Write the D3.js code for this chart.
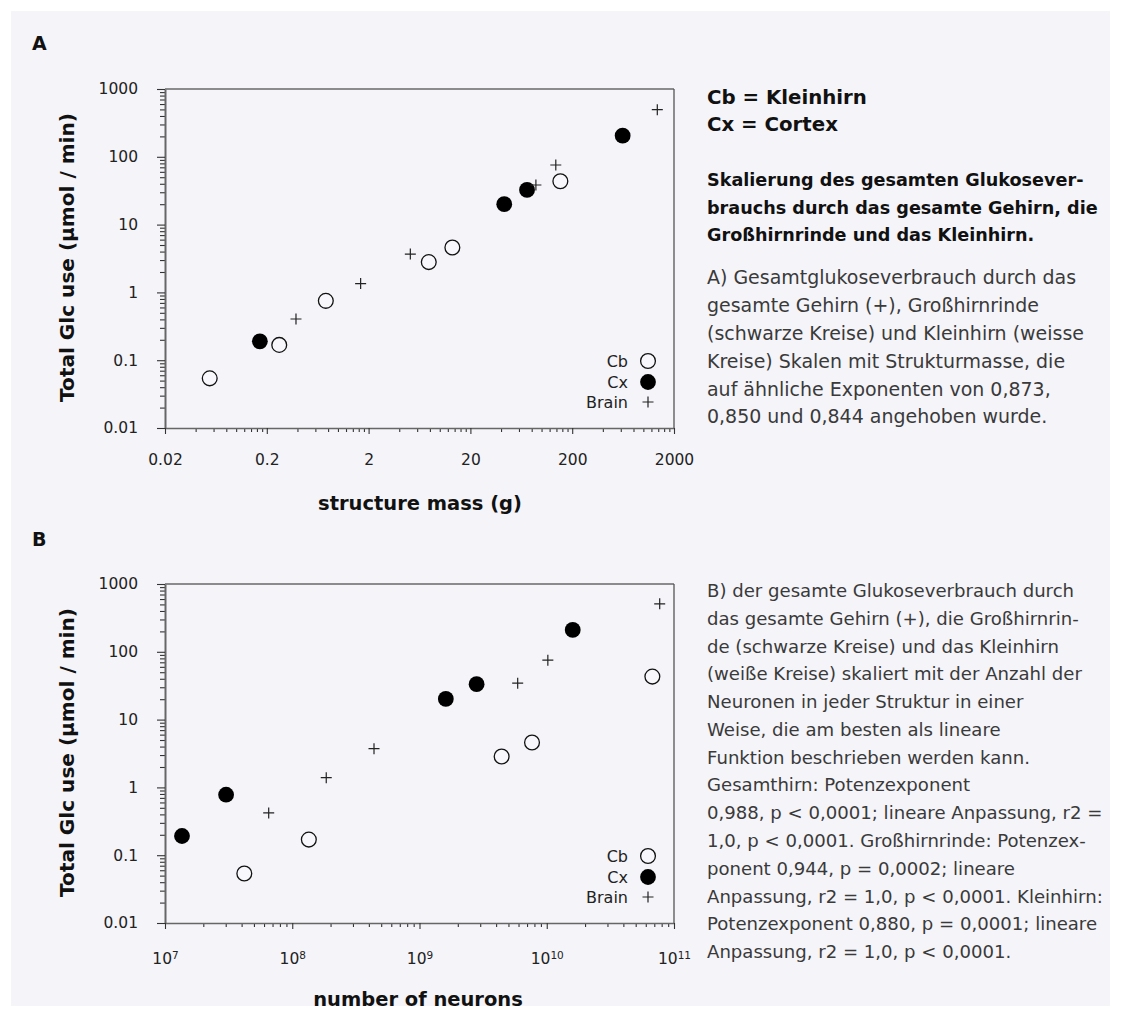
<!DOCTYPE html>
<html>
<head>
<meta charset="utf-8">
<script src="https://cdn.jsdelivr.net/npm/d3@7"></script>
<style>
  html, body { margin: 0; padding: 0; background: #ffffff; }
  svg { display: block; }
</style>
</head>
<body>
<svg id="chart" width="1121" height="1017"></svg>
<script>
// ---------------- DATA ----------------
// Panel A: x = structure mass (g), y = total Glc use (µmol/min)
const massCb      = [0.055, 0.265, 0.76, 7.8, 13.3, 153];
const glcCbA      = [0.054, 0.168, 0.75, 2.8, 4.6, 43.5];
const massCx      = [0.171, 43, 72, 626];
const glcCxA      = [0.19, 20, 32.5, 205];
const massBrain   = [0.387, 1.67, 5.14, 88, 138, 1371];
const glcBrainA   = [0.405, 1.35, 3.68, 38.4, 75.7, 495];

// Panel B: x = number of neurons
const neuronsCb    = [4.2e7, 1.35e8, 4.42e9, 7.66e9, 6.76e10];
const glcCbB       = [0.0536, 0.17, 2.86, 4.6, 43.1];
const neuronsCx    = [1.36e7, 3.02e7, 1.61e9, 2.81e9, 1.6e10];
const glcCxB       = [0.192, 0.78, 20.2, 33.3, 210];
const neuronsBrain = [6.53e7, 1.85e8, 4.39e8, 5.91e9, 1.02e10, 7.72e10];
const glcBrainB    = [0.42, 1.39, 3.72, 34.5, 75.2, 510];

// Axes
const glcTicks        = [0.01, 0.1, 1, 10, 100, 1000];
const glcTickLabels   = ["0.01", "0.1", "1", "10", "100", "1000"];
const massTicks       = [0.02, 0.2, 2, 20, 200, 2000];
const massTickLabels  = ["0.02", "0.2", "2", "20", "200", "2000"];
const neuronTicks     = [1e7, 1e8, 1e9, 1e10, 1e11];
const neuronTickExps  = ["7", "8", "9", "10", "11"];
const minorMultipliers = [2, 3, 4, 5, 6, 7, 8, 9];

const legendLabels = ["Cb", "Cx", "Brain"];
const yTitle = "Total Glc use (µmol / min)";
const xTitleA = "structure mass (g)";
const xTitleB = "number of neurons";

const headA = ["Cb = Kleinhirn", "Cx = Cortex"];
const boldA = ["Skalierung des gesamten Glukosever-",
               "brauchs durch das gesamte Gehirn, die",
               "Großhirnrinde und das Kleinhirn."];
const bodyA = ["A) Gesamtglukoseverbrauch durch das",
               "gesamte Gehirn (+), Großhirnrinde",
               "(schwarze Kreise) und Kleinhirn (weisse",
               "Kreise) Skalen mit Strukturmasse, die",
               "auf ähnliche Exponenten von 0,873,",
               "0,850 und 0,844 angehoben wurde."];
const bodyB = ["B) der gesamte Glukoseverbrauch durch",
               "das gesamte Gehirn (+), die Großhirnrin-",
               "de (schwarze Kreise) und das Kleinhirn",
               "(weiße Kreise) skaliert mit der Anzahl der",
               "Neuronen in jeder Struktur in einer",
               "Weise, die am besten als lineare",
               "Funktion beschrieben werden kann.",
               "Gesamthirn: Potenzexponent",
               "0,988, p < 0,0001; lineare Anpassung, r2 =",
               "1,0, p < 0,0001. Großhirnrinde: Potenzex-",
               "ponent 0,944, p = 0,0002; lineare",
               "Anpassung, r2 = 1,0, p < 0,0001. Kleinhirn:",
               "Potenzexponent 0,880, p = 0,0001; lineare",
               "Anpassung, r2 = 1,0, p < 0,0001."];

// ---------------- DRAW ----------------
const FONT = "'DejaVu Sans', sans-serif";
const svg = d3.select("#chart");
svg.append("rect").attr("x", 11).attr("y", 11).attr("width", 1099).attr("height", 995)
   .attr("fill", "#f4f4f9");

function measure(txt, weight) {
  const probe = svg.append("text").attr("font-family", FONT).attr("font-weight", weight)
    .attr("font-size", 16).text(txt);
  const w = probe.node().getComputedTextLength();
  probe.remove();
  return w;
}
function fitSize(txt, weight, target) { return 16 * target / measure(txt, weight); }

function minorTicks(lo, hi, base) {
  const out = [];
  for (let p = lo; p < hi; p *= 10) minorMultipliers.forEach(m => out.push(p * m * base));
  return out;
}

const yTitleSize = fitSize(yTitle, "bold", 289);
const xTitleSize = (fitSize(xTitleA, "bold", 188) + fitSize(xTitleB, "bold", 226)) / 2;

function drawPanel(opt) {
  const L = 165, R = 674, T = opt.top, B = opt.top + 339;
  const x = d3.scaleLog().domain(opt.xDomain).range([L, R]);
  const y = d3.scaleLog().domain([0.01, 1000]).range([B, T]);
  const g = svg.append("g");

  // frame
  g.append("line").attr("x1", L).attr("x2", R).attr("y1", T).attr("y2", T)
   .attr("stroke", "#222").attr("stroke-width", 1.2);
  g.append("line").attr("x1", R).attr("x2", R).attr("y1", T).attr("y2", B)
   .attr("stroke", "#555").attr("stroke-width", 1.3);

  // y axis
  const yMinor = [];
  for (let p = 0.01; p < 1000; p *= 10) minorMultipliers.forEach(m => yMinor.push(p * m));
  g.append("g").attr("transform", `translate(${L},0)`)
   .call(d3.axisLeft(y).tickValues(yMinor).tickSize(5).tickFormat("").tickSizeOuter(0))
   .call(s => s.select(".domain").remove())
   .call(s => s.selectAll("line").attr("stroke", "#333").attr("stroke-width", 1.1));
  const yAx = g.append("g").attr("transform", `translate(${L},0)`)
   .call(d3.axisLeft(y).tickValues(glcTicks).tickSize(8).tickPadding(19).tickSizeOuter(0)
         .tickFormat((d, i) => glcTickLabels[i]));
  yAx.select(".domain").attr("stroke", "#666").attr("stroke-width", 2);
  yAx.selectAll("line").attr("stroke", "#333").attr("stroke-width", 1.1);
  yAx.selectAll("text").attr("font-family", FONT).attr("font-size", 15.5).attr("fill", "#222");

  // x axis
  g.append("g").attr("transform", `translate(0,${B})`)
   .call(d3.axisBottom(x).tickValues(opt.xMinor).tickSize(4).tickFormat("").tickSizeOuter(0))
   .call(s => s.select(".domain").remove())
   .call(s => s.selectAll("line").attr("stroke", "#333").attr("stroke-width", 1.1));
  const xAx = g.append("g").attr("transform", `translate(0,${B})`)
   .call(d3.axisBottom(x).tickValues(opt.xTicks).tickSize(6).tickPadding(opt.xPad).tickSizeOuter(0)
         .tickFormat(opt.xFormat));
  xAx.select(".domain").attr("stroke", "#666").attr("stroke-width", 1.6);
  xAx.selectAll("line").attr("stroke", "#333").attr("stroke-width", 1.1);
  xAx.selectAll("text").attr("font-family", FONT).attr("font-size", 15.5).attr("fill", "#222");
  if (opt.superscript) {
    xAx.selectAll(".tick text").each(function(d, i) {
      const t = d3.select(this).text("");
      t.append("tspan").text("10");
      t.append("tspan").attr("font-size", 10.5).attr("dy", "-0.45em").text(neuronTickExps[i]);
    });
  }

  // titles
  svg.append("text").attr("transform", `translate(67,${(T + B) / 2 - 1}) rotate(-90)`)
   .attr("text-anchor", "middle").attr("dy", "0.35em")
   .attr("font-family", FONT).attr("font-weight", "bold").attr("font-size", yTitleSize).attr("fill", "#111")
   .text(yTitle);
  svg.append("text").attr("x", opt.xTitleX).attr("y", B + opt.xTitleDy)
   .attr("text-anchor", "middle").attr("dy", "0.35em")
   .attr("font-family", FONT).attr("font-weight", "bold")
   .attr("font-size", xTitleSize).attr("fill", "#111")
   .text(opt.xTitle);
  svg.append("text").attr("x", 32).attr("y", opt.letterY)
   .attr("font-family", FONT).attr("font-weight", "bold").attr("font-size", 19).attr("fill", "#111")
   .text(opt.letter);

  // marks
  const cross = "M-5.5,0H5.5M0,-5.5V5.5";
  g.selectAll(".cb").data(d3.zip(opt.cbX, opt.cbY)).join("circle")
   .attr("cx", d => x(d[0])).attr("cy", d => y(d[1])).attr("r", 7.4)
   .attr("fill", "#f8f8fc").attr("stroke", "#111").attr("stroke-width", 1.3);
  g.selectAll(".cx").data(d3.zip(opt.cxX, opt.cxY)).join("circle")
   .attr("cx", d => x(d[0])).attr("cy", d => y(d[1])).attr("r", 7.9)
   .attr("fill", "#000");
  g.selectAll(".br").data(d3.zip(opt.brX, opt.brY)).join("path")
   .attr("transform", d => `translate(${x(d[0])},${y(d[1])})`).attr("d", cross)
   .attr("fill", "none").attr("stroke", "#222").attr("stroke-width", 1.2);

  // legend
  const lg = g.append("g");
  const rows = [-67, -46, -26];
  legendLabels.forEach((lab, i) => {
    lg.append("text").attr("x", 628).attr("y", B + rows[i]).attr("dy", "0.35em")
      .attr("text-anchor", "end").attr("font-family", FONT).attr("font-size", 16).attr("fill", "#222")
      .text(lab);
  });
  lg.append("circle").attr("cx", 648).attr("cy", B + rows[0]).attr("r", 7.4)
    .attr("fill", "#f8f8fc").attr("stroke", "#111").attr("stroke-width", 1.3);
  lg.append("circle").attr("cx", 648).attr("cy", B + rows[1]).attr("r", 7.9).attr("fill", "#000");
  lg.append("path").attr("transform", `translate(648,${B + rows[2]})`).attr("d", cross)
    .attr("fill", "none").attr("stroke", "#222").attr("stroke-width", 1.2);
}

drawPanel({
  top: 89, letter: "A", letterY: 50,
  xDomain: [0.02, 2000], xTicks: massTicks, xMinor: minorTicks(0.02, 2000, 1),
  xFormat: (d, i) => massTickLabels[i], xPad: 20, superscript: false,
  xTitle: xTitleA, xTitleDy: 75, xTitleX: 420,
  cbX: massCb, cbY: glcCbA, cxX: massCx, cxY: glcCxA, brX: massBrain, brY: glcBrainA
});
drawPanel({
  top: 584, letter: "B", letterY: 546,
  xDomain: [1e7, 1e11], xTicks: neuronTicks, xMinor: minorTicks(1e7, 1e11, 1),
  xFormat: (d, i) => "10" + neuronTickExps[i], xPad: 24, superscript: true,
  xTitle: xTitleB, xTitleDy: 76, xTitleX: 418,
  cbX: neuronsCb, cbY: glcCbB, cxX: neuronsCx, cxY: glcCxB, brX: neuronsBrain, brY: glcBrainB
});

// ---------------- TEXT BLOCKS ----------------
function block(lines, x0, yCenter0, step, weight, maxWidth, fill) {
  const widest = d3.max(lines, ln => measure(ln, weight));
  const fs = 16 * maxWidth / widest;
  lines.forEach((ln, i) => {
    svg.append("text").attr("x", x0).attr("y", yCenter0 + i * step).attr("dy", "0.35em")
      .attr("font-family", FONT).attr("font-weight", weight).attr("font-size", fs)
      .attr("fill", fill).text(ln);
  });
}
block(headA, 707, 97, 26.7, "bold", 160, "#111");
block(boldA, 707, 180, 27.5, "bold", 391, "#111");
block(bodyA, 707, 277.7, 27.8, "normal", 377, "#3a3a3a");
block(bodyB, 707, 590.7, 27.77, "normal", 396, "#3a3a3a");
</script>
</body>
</html>
